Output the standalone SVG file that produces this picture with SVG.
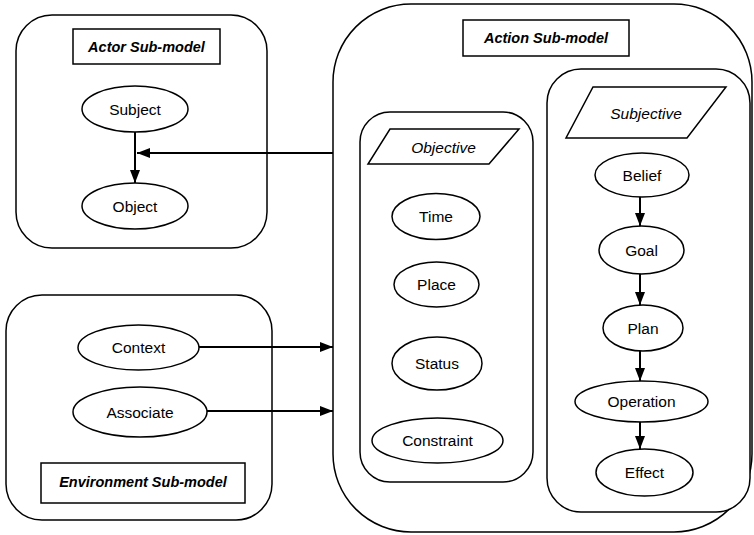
<svg xmlns="http://www.w3.org/2000/svg" width="754" height="535" viewBox="0 0 754 535">
<style>
.box{fill:#fff;stroke:#000;stroke-width:1.5}
.node{fill:#fff;stroke:#000;stroke-width:1.5}
.t{font-family:"Liberation Sans",Arial,sans-serif;font-size:15.5px;text-anchor:middle;dominant-baseline:central;fill:#000}
.ti{font-style:italic}
.tb{font-weight:bold;font-style:italic;font-size:14.5px}
.edge{stroke:#000;stroke-width:2;fill:none}
</style>
<defs>
<marker id="ah2" viewBox="0 0 13 10" refX="13" refY="5" markerWidth="13" markerHeight="10" markerUnits="userSpaceOnUse" orient="auto">
<path d="M0,0 L13,5 L0,10 z" fill="#000"/>
</marker>
</defs>
<rect width="754" height="535" fill="#fff"/>

<g id="actor-submodel">
<rect class="box" x="16" y="15" width="251" height="233" rx="36" ry="36"/>
<rect class="box" x="73" y="29" width="147" height="35"/>
<text class="t tb" x="146.5" y="47">Actor Sub-model</text>
</g>
<g id="subject"><ellipse class="node" cx="135" cy="109" rx="53" ry="23"/><text class="t" x="135" y="109">Subject</text></g>
<g id="object"><ellipse class="node" cx="135" cy="206" rx="53" ry="23"/><text class="t" x="135" y="206">Object</text></g>

<g id="environment-submodel">
<rect class="box" x="6" y="295" width="266" height="225" rx="36" ry="36"/>
<rect class="box" x="41" y="463" width="204" height="40"/>
<text class="t tb" x="143" y="482">Environment Sub-model</text>
</g>
<g id="context"><ellipse class="node" cx="138.5" cy="347.5" rx="60.5" ry="22.5"/><text class="t" x="138.5" y="347.5">Context</text></g>
<g id="associate"><ellipse class="node" cx="140" cy="412" rx="67" ry="25"/><text class="t" x="140" y="412">Associate</text></g>

<g id="action-submodel">
<rect class="box" x="333" y="4" width="419" height="528" rx="78" ry="78"/>
<rect class="box" x="463" y="20" width="166" height="36"/>
<text class="t tb" x="546" y="38">Action Sub-model</text>
</g>

<g id="objective-group">
<rect class="box" x="360" y="112" width="173" height="370" rx="30" ry="30"/>
<polygon class="node" points="390,129 519,129 489,164 368,164"/>
<text class="t ti" x="443.5" y="147">Objective</text>
</g>
<g id="time"><ellipse class="node" cx="436" cy="216.5" rx="44" ry="23"/><text class="t" x="436" y="216.5">Time</text></g>
<g id="place"><ellipse class="node" cx="436.5" cy="284.5" rx="42.5" ry="22.5"/><text class="t" x="436.5" y="284.5">Place</text></g>
<g id="status"><ellipse class="node" cx="437" cy="363.5" rx="45" ry="26.5"/><text class="t" x="437" y="363.5">Status</text></g>
<g id="constraint"><ellipse class="node" cx="437.5" cy="440.5" rx="65.5" ry="22.5"/><text class="t" x="437.5" y="440.5">Constraint</text></g>

<g id="subjective-group">
<rect class="box" x="547" y="69" width="203" height="443" rx="34" ry="34"/>
<polygon class="node" points="593,87 726,87 687,138 566,138"/>
<text class="t ti" x="646" y="113">Subjective</text>
</g>
<g id="belief"><ellipse class="node" cx="642" cy="175" rx="47" ry="22"/><text class="t" x="642" y="175">Belief</text></g>
<g id="goal"><ellipse class="node" cx="641.5" cy="250" rx="42.5" ry="24"/><text class="t" x="641.5" y="250">Goal</text></g>
<g id="plan"><ellipse class="node" cx="643" cy="328" rx="40" ry="23"/><text class="t" x="643" y="328">Plan</text></g>
<g id="operation"><ellipse class="node" cx="641.5" cy="401.5" rx="66.5" ry="20.5"/><text class="t" x="641.5" y="401.5">Operation</text></g>
<g id="effect"><ellipse class="node" cx="644.5" cy="472.5" rx="48.5" ry="23.5"/><text class="t" x="644.5" y="472.5">Effect</text></g>

<g id="connectors">
<line class="edge" x1="135" y1="132" x2="135" y2="183" marker-end="url(#ah2)"/>
<line class="edge" x1="333" y1="153" x2="137" y2="153" marker-end="url(#ah2)"/>
<line class="edge" x1="199" y1="347" x2="333" y2="347" marker-end="url(#ah2)"/>
<line class="edge" x1="207" y1="411" x2="333" y2="411" marker-end="url(#ah2)"/>
<line class="edge" x1="640" y1="197" x2="640" y2="226" marker-end="url(#ah2)"/>
<line class="edge" x1="640" y1="274" x2="640" y2="305" marker-end="url(#ah2)"/>
<line class="edge" x1="640" y1="351" x2="640" y2="381" marker-end="url(#ah2)"/>
<line class="edge" x1="640" y1="422" x2="640" y2="449" marker-end="url(#ah2)"/>
</g>
</svg>
